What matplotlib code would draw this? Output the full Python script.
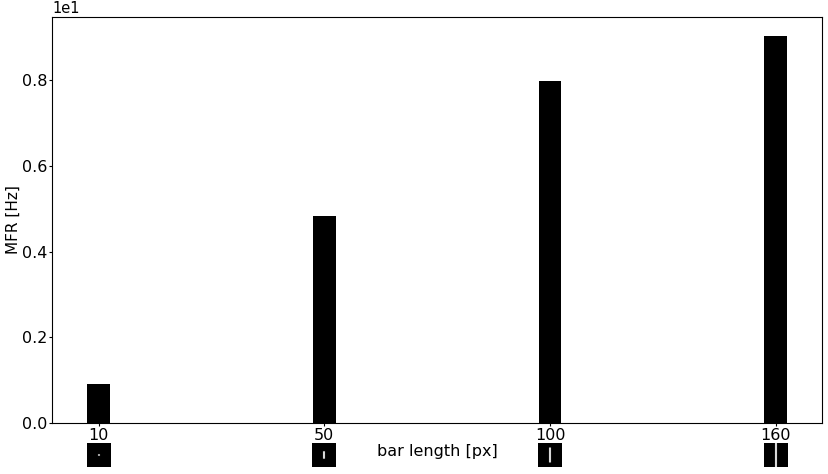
import matplotlib
matplotlib.use("Agg")
import matplotlib.pyplot as plt
import matplotlib.transforms as mtransforms
import numpy as np

# bar lengths shown to the animal [px] and mean firing rate [Hz]
bar_lengths = [10, 50, 100, 160]
tick_labels = ["10", "50", "100", "160"]
mfr = [0.91, 4.83, 7.98, 9.03]

stim_size = 160  # stimulus image is 160x160 px


def stimulus_image(length, size=stim_size, bar_w=12):
    """Black square with a centred white vertical bar of the given length."""
    img = np.zeros((size, size))
    y0 = (size - length) // 2
    x0 = (size - bar_w) // 2
    img[y0:y0 + length, x0:x0 + bar_w] = 1.0
    return img


fig, ax = plt.subplots(figsize=(8.29, 4.74), dpi=100)
fig.subplots_adjust(left=0.063, right=0.9916, top=0.964, bottom=0.108)

pos = np.arange(len(bar_lengths))
ax.bar(pos, mfr, width=0.1, color="black")
ax.set_xticks(pos)
ax.set_xticklabels(tick_labels)
ax.tick_params(labelsize=11.5, length=2.5, pad=1)
ax.set_ylabel("MFR [Hz]", fontsize=11, labelpad=1)
ax.set_xlabel("bar length [px]", fontsize=11.5, labelpad=1)
ax.ticklabel_format(axis="y", style="sci", scilimits=(1, 1))
ax.yaxis.get_offset_text().set_fontsize(10.5)

# little stimulus icons under each tick label
trans = mtransforms.blended_transform_factory(ax.transData, ax.transAxes)
for p, L in zip(pos, bar_lengths):
    iax = ax.inset_axes([p - 0.053, -0.108, 0.106, 0.059], transform=trans)
    iax.imshow(stimulus_image(L), cmap="gray", vmin=0, vmax=1,
               aspect="auto", interpolation="antialiased")
    iax.set_xticks([])
    iax.set_yticks([])
    for s in iax.spines.values():
        s.set_visible(False)

plt.savefig("out.png", dpi=100)
